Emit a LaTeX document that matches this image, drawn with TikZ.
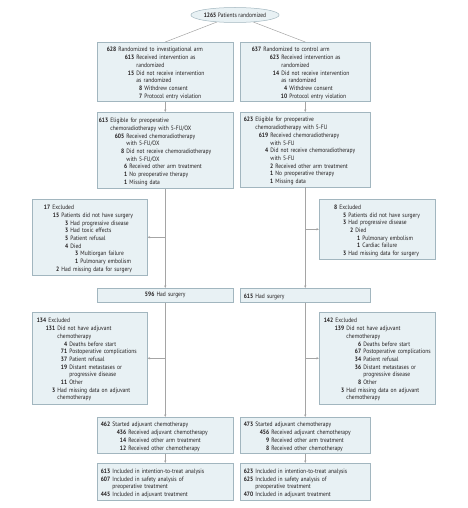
\documentclass[tikz,border=0pt]{standalone}
\usepackage{fontspec}
\setmainfont{PT Sans}[FakeStretch=0.88]
\usetikzlibrary{shapes.geometric,arrows.meta}

\definecolor{boxfill}{HTML}{E8F1F4}
\definecolor{boxedge}{HTML}{A2B6BF}
\definecolor{linegray}{HTML}{A5A5A5}
\definecolor{txt}{HTML}{231F20}

% number right aligned at #1, text hanging after it
\newcommand\ent[3]{\par\noindent\hangindent=\dimexpr#1+2.2pt\relax\hangafter=1\makebox[#1][r]{\textbf{#2}}\hspace{2.2pt}#3\par}

\tikzset{
    flowbox/.style={draw=boxedge, fill=boxfill, anchor=north west, inner xsep=3pt, inner ysep=2pt,
        align=left, text=txt, font=\fontsize{6.3}{7.7}\selectfont, line width=0.5pt},
    flowline/.style={draw=linegray, line width=0.5pt},
    flowarrow/.style={flowline, -{Stealth[length=2.6pt,width=2.2pt]}},
}

\begin{document}
\begin{tikzpicture}[x=1pt,y=-1pt]
    \useasboundingbox (0,0) rectangle (467,508);

    \node[ellipse, draw=boxedge, fill=boxfill, text=txt, font=\fontsize{6.3}{7.7}\selectfont,
        minimum width=86pt, minimum height=15pt, inner sep=0pt, line width=0.5pt] (rand) at (235,15)
        {\textbf{1265} Patients randomized};

    \node[flowbox, text width=130pt, minimum height=58pt] (invArm) at (97,42) {
        \ent{16pt}{628}{Randomized to investigational arm}
        \ent{34pt}{613}{Received intervention as\newline randomized}
        \ent{34pt}{15}{Did not receive intervention\newline as randomized}
        \ent{42pt}{8}{Withdrew consent}
        \ent{42pt}{7}{Protocol entry violation}};
    \node[flowbox, text width=124pt, minimum height=58pt] (ctrlArm) at (240,42) {
        \ent{18pt}{637}{Randomized to control arm}
        \ent{36pt}{623}{Received intervention as\newline randomized}
        \ent{36pt}{14}{Did not receive intervention\newline as randomized}
        \ent{44pt}{4}{Withdrew consent}
        \ent{44pt}{10}{Protocol entry violation}};

    \node[flowbox, text width=130pt, minimum height=76pt] (eligInv) at (97,112) {
        \ent{8pt}{613}{Eligible for preoperative\newline chemoradiotherapy with 5-FU/OX}
        \ent{24pt}{605}{Received chemoradiotherapy\newline with 5-FU/OX}
        \ent{24pt}{8}{Did not receive chemoradiotherapy\newline with 5-FU/OX}
        \ent{27pt}{6}{Received other arm treatment}
        \ent{27pt}{1}{No preoperative therapy}
        \ent{27pt}{1}{Missing data}};
    \node[flowbox, text width=124pt, minimum height=74pt] (eligCtrl) at (240,112) {
        \ent{10pt}{623}{Eligible for preoperative\newline chemoradiotherapy with 5-FU}
        \ent{25pt}{619}{Received chemoradiotherapy\newline with 5-FU}
        \ent{25pt}{4}{Did not receive chemoradiotherapy\newline with 5-FU}
        \ent{30pt}{2}{Received other arm treatment}
        \ent{30pt}{1}{No preoperative therapy}
        \ent{30pt}{1}{Missing data}};

    \node[flowbox, text width=109pt, minimum height=76pt] (exSurgInv) at (32,199) {
        \ent{15pt}{17}{Excluded}
        \ent{24pt}{15}{Patients did not have surgery}
        \ent{33pt}{3}{Had progressive disease}
        \ent{33pt}{3}{Had toxic effects}
        \ent{33pt}{5}{Patient refusal}
        \ent{33pt}{4}{Died}
        \ent{43pt}{3}{Multiorgan failure}
        \ent{43pt}{1}{Pulmonary embolism}
        \ent{24pt}{2}{Had missing data for surgery}};
    \node[flowbox, text width=110pt, minimum height=60pt] (exSurgCtrl) at (319,199) {
        \ent{15pt}{8}{Excluded}
        \ent{24pt}{5}{Patients did not have surgery}
        \ent{24pt}{3}{Had progressive disease}
        \ent{31pt}{2}{Died}
        \ent{38pt}{1}{Pulmonary embolism}
        \ent{38pt}{1}{Cardiac failure}
        \ent{24pt}{3}{Had missing data for surgery}};

    \node[flowbox, text width=130pt, minimum height=14pt, align=center] (surgInv) at (97,288)
        {\textbf{596} Had surgery};
    \node[flowbox, text width=124pt, minimum height=14pt] (surgCtrl) at (240,288)
        {\ent{10pt}{615}{Had surgery}};

    \node[flowbox, text width=109pt, minimum height=92pt] (exAdjInv) at (32,312) {
        \ent{11pt}{134}{Excluded}
        \ent{20pt}{131}{Did not have adjuvant\newline chemotherapy}
        \ent{32pt}{4}{Deaths before start}
        \ent{32pt}{71}{Postoperative complications}
        \ent{32pt}{37}{Patient refusal}
        \ent{32pt}{19}{Distant metastases or\newline progressive disease}
        \ent{32pt}{11}{Other}
        \ent{20pt}{3}{Had missing data on adjuvant\newline chemotherapy}};
    \node[flowbox, text width=110pt, minimum height=92pt] (exAdjCtrl) at (319,312) {
        \ent{11pt}{142}{Excluded}
        \ent{22pt}{139}{Did not have adjuvant\newline chemotherapy}
        \ent{39pt}{6}{Deaths before start}
        \ent{39pt}{67}{Postoperative complications}
        \ent{39pt}{34}{Patient refusal}
        \ent{39pt}{36}{Distant metastases or\newline progressive disease}
        \ent{39pt}{8}{Other}
        \ent{22pt}{3}{Had missing data on adjuvant\newline chemotherapy}};

    \node[flowbox, text width=130pt, minimum height=36pt] (adjInv) at (97,417) {
        \ent{10pt}{462}{Started adjuvant chemotherapy}
        \ent{26pt}{436}{Received adjuvant chemotherapy}
        \ent{26pt}{14}{Received other arm treatment}
        \ent{26pt}{12}{Received other chemotherapy}};
    \node[flowbox, text width=124pt, minimum height=36pt] (adjCtrl) at (240,417) {
        \ent{10pt}{473}{Started adjuvant chemotherapy}
        \ent{26pt}{456}{Received adjuvant chemotherapy}
        \ent{26pt}{9}{Received other arm treatment}
        \ent{26pt}{8}{Received other chemotherapy}};

    \node[flowbox, text width=130pt, minimum height=37pt] (itInv) at (97,463) {
        \ent{10pt}{613}{Included in intention-to-treat analysis}
        \ent{10pt}{607}{Included in safety analysis of\newline preoperative treatment}
        \ent{10pt}{445}{Included in adjuvant treatment}};
    \node[flowbox, text width=124pt, minimum height=37pt] (itCtrl) at (240,463) {
        \ent{10pt}{623}{Included in intention-to-treat analysis}
        \ent{10pt}{625}{Included in safety analysis of\newline preoperative treatment}
        \ent{10pt}{470}{Included in adjuvant treatment}};

    \draw[flowline] (rand) -- (invArm.north);
    \draw[flowline] (rand) -- (ctrlArm.north);
    \draw[flowarrow] (invArm) -- (eligInv);
    \draw[flowarrow] (ctrlArm) -- (eligCtrl);
    \draw[flowarrow] (eligInv) -- (surgInv);
    \draw[flowarrow] (eligCtrl) -- (surgCtrl);
    \draw[flowarrow] (exSurgInv.east -| eligInv.south) -- (exSurgInv.east);
    \draw[flowarrow] (exSurgCtrl.west -| eligCtrl.south) -- (exSurgCtrl.west);
    \draw[flowarrow] (surgInv) -- (adjInv);
    \draw[flowarrow] (surgCtrl) -- (adjCtrl);
    \draw[flowarrow] (exAdjInv.east -| surgInv.south) -- (exAdjInv.east);
    \draw[flowarrow] (exAdjCtrl.west -| surgCtrl.south) -- (exAdjCtrl.west);
    \draw[flowarrow] (adjInv) -- (itInv);
    \draw[flowarrow] (adjCtrl) -- (itCtrl);
\end{tikzpicture}
\end{document}
